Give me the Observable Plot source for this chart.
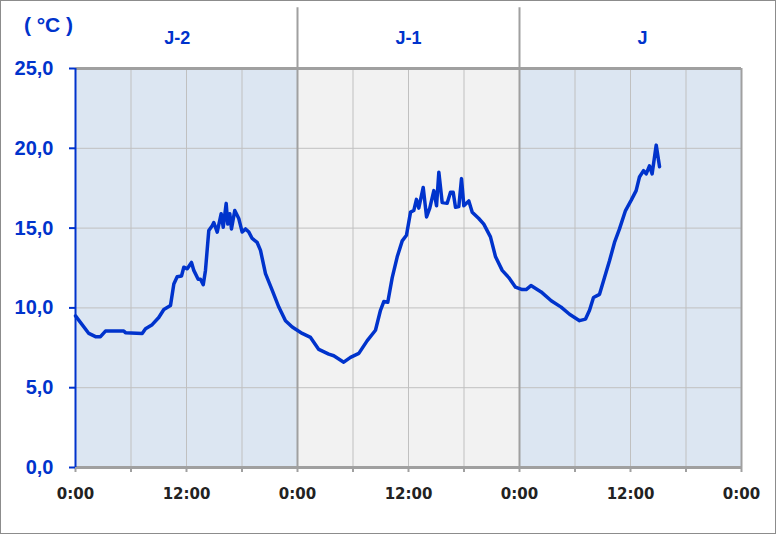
<!DOCTYPE html>
<html>
<head>
<meta charset="utf-8">
<script src="https://cdn.jsdelivr.net/npm/d3@7"></script>
<script src="https://cdn.jsdelivr.net/npm/@observablehq/plot@0.6"></script>
<style>
  html, body { margin: 0; padding: 0; background: #fff; }
  #chart svg { display: block; outline: 1px solid #8c8c8c; outline-offset: -1px; }
</style>
</head>
<body>
<div id="chart"></div>
<script>
// Hours since 0:00 of day J-2
const hours = [
  0, 1.44, 2.16, 2.7, 3.24, 5.22, 5.4, 7.21, 7.57, 8.29, 9.0, 9.55, 10.27, 10.63, 10.99,
  11.46, 11.71, 12.08, 12.54, 12.79, 13.26, 13.51, 13.81, 14.05, 14.41, 14.78, 14.95,
  15.32, 15.75, 15.97, 16.29, 16.46, 16.68, 16.86, 17.22, 17.65, 18.02, 18.38, 18.74,
  19.1, 19.64, 20.0, 20.54, 21.27, 21.98, 22.7, 23.43, 24.51,
  25.41, 26.3, 27.38, 27.92, 29.0, 29.73, 30.63, 31.54, 32.43, 32.97, 33.33, 33.76,
  34.24, 34.78, 35.32, 35.78, 36.22, 36.57, 36.86, 37.11, 37.59, 37.95, 38.3, 38.74,
  39.03, 39.28, 39.64, 40.18, 40.54, 40.83, 41.08, 41.44, 41.73, 41.98, 42.52, 42.89,
  43.6, 44.14, 44.86, 45.41, 46.13, 46.84, 47.57,
  48.29, 48.72, 49.24, 50.34, 51.43, 52.5, 53.41, 54.49, 55.14, 55.57, 56.0, 56.65,
  57.19, 57.73, 58.27, 58.81, 59.46, 60.08, 60.61, 60.97, 61.41, 61.7, 62.05, 62.34,
  62.78, 63.14
];
// Temperature (°C)
const temps = [
  9.5, 8.4, 8.2, 8.2, 8.55, 8.55, 8.45, 8.4, 8.7, 8.95, 9.4, 9.9, 10.15, 11.5, 11.95,
  12.0, 12.55, 12.45, 12.85, 12.35, 11.8, 11.8, 11.45, 12.35, 14.85, 15.15, 15.35,
  14.75, 15.9, 15.05, 16.55, 15.25, 15.9, 14.95, 16.1, 15.6, 14.75, 14.95, 14.75,
  14.35, 14.1, 13.6, 12.15, 11.1, 10.05, 9.2, 8.8, 8.4,
  8.15, 7.4, 7.1, 7.0, 6.6, 6.9, 7.15, 7.95, 8.6, 9.85, 10.4, 10.35,
  11.9, 13.2, 14.2, 14.55, 16.0, 16.1, 16.8, 16.25, 17.55, 15.7, 16.25, 17.35,
  16.4, 18.5, 16.6, 16.55, 17.25, 17.25, 16.3, 16.35, 18.1, 16.4, 16.7, 16.0,
  15.6, 15.25, 14.45, 13.2, 12.35, 11.9, 11.3,
  11.15, 11.15, 11.4, 11.0, 10.45, 10.05, 9.6, 9.2, 9.3, 9.85, 10.65, 10.85,
  11.9, 12.95, 14.1, 14.95, 16.1, 16.75, 17.35, 18.2, 18.6, 18.4, 18.9, 18.4,
  20.2, 18.85
];

const dayLabels = ["J-2", "J-1", "J"];
const dayStarts = [0, 24, 48];
const dayEnds = [24, 48, 72];
const dayLabelHours = [11, 36, 61.3];
const dayFills = ["#dce6f2", "#f2f2f2", "#dce6f2"];
const xTicks = [0, 6, 12, 18, 24, 30, 36, 42, 48, 54, 60, 66, 72];
const xLabelTicks = [0, 12, 24, 36, 48, 60, 72];
const yTicks = [0, 5, 10, 15, 20, 25];
const unitLabel = "( °C )";

const series = hours.map((h, i) => ({h, t: temps[i]}));
const days = dayLabels.map((d, i) => ({label: d, x1: dayStarts[i], x2: dayEnds[i], lx: dayLabelHours[i], fill: dayFills[i]}));

const blue = "#0033cc";
const gray = "#a0a0a0";

const chart = Plot.plot({
  width: 776,
  height: 534,
  marginLeft: 75,
  marginRight: 35,
  marginTop: 68,
  marginBottom: 67,
  x: {domain: [0, 72]},
  y: {domain: [0, 25]},
  style: {fontFamily: "Liberation Sans, Arial, sans-serif"},
  marks: [
    Plot.rectY(days, {x1: "x1", x2: "x2", y1: 0, y2: 25, fill: "fill"}),
    Plot.gridX(xTicks, {stroke: "#c0c0c0", strokeOpacity: 1, strokeWidth: 1}),
    Plot.gridY(yTicks, {stroke: "#c0c0c0", strokeOpacity: 1, strokeWidth: 1}),
    Plot.ruleX([24, 48], {y1: 0, y2: 28.8, stroke: gray, strokeWidth: 2}),
    Plot.ruleX([72], {y1: 0, y2: 25, stroke: gray, strokeWidth: 2}),
    Plot.ruleY([25], {x1: 0, x2: 72, stroke: gray, strokeWidth: 3}),
    Plot.ruleY([0], {x1: 0, x2: 72, stroke: gray, strokeWidth: 3}),
    Plot.ruleX([0], {y1: 0, y2: 25, stroke: blue, strokeWidth: 2}),
    Plot.line(series, {x: "h", y: "t", stroke: blue, strokeWidth: 3.5, strokeLinejoin: "round"}),
    Plot.axisX({ticks: xTicks, tickSize: 5, tickFormat: () => "", stroke: gray, strokeWidth: 2, label: null}),
    Plot.axisX({ticks: xLabelTicks, tickSize: 0, tickPadding: 21,
      tickFormat: d => (d % 24 === 0 ? "0:00" : "12:00"),
      fill: "#222", fontSize: 15, fontWeight: "bold", fontFamily: "DejaVu Sans", label: null}),
    Plot.axisY({ticks: yTicks, tickSize: 6, tickPadding: 16,
      tickFormat: d => d.toFixed(1).replace(".", ","),
      color: blue, strokeWidth: 2, fontSize: 20, fontWeight: "bold", label: null}),
    Plot.text(days, {x: "lx", text: "label", frameAnchor: "top", lineAnchor: "middle", dy: -30,
      fill: blue, fontSize: 18, fontWeight: "bold"}),
    Plot.text([unitLabel], {frameAnchor: "top-left", lineAnchor: "middle", dx: -27, dy: -43,
      fill: blue, fontSize: 21, fontWeight: "bold", textAnchor: "middle"})
  ]
});
document.getElementById("chart").appendChild(chart);
</script>
</body>
</html>
